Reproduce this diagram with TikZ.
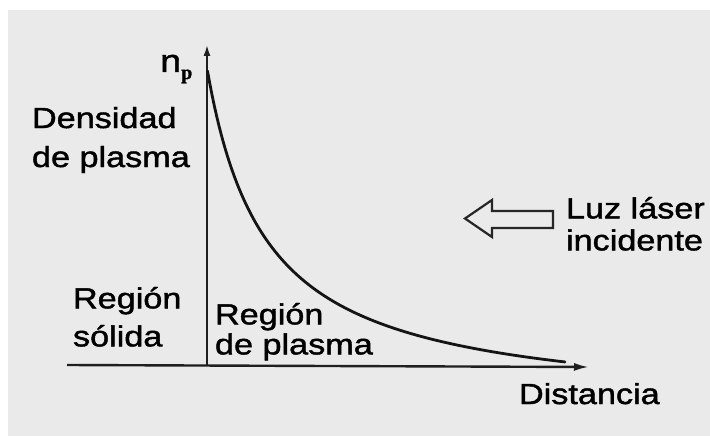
\documentclass[tikz,border=0pt]{standalone}
\usepackage{fontspec}
\setmainfont[FakeStretch=1.18,FakeBold=1.5]{Liberation Sans}
\newfontfamily\pserif[FakeBold=1]{Liberation Serif}
\usetikzlibrary{arrows.meta}
\definecolor{bggrey}{RGB}{234,234,234}
\begin{document}
\begin{tikzpicture}[x=1pt,y=-1pt,
  lbl/.style={inner sep=0pt,outer sep=0pt,align=left,anchor=north west,font=\fontsize{29}{#1}\selectfont},
  lbl/.default=38,
  axis/.style={line width=2.4pt,draw=black!88},
  curve/.style={line width=2.8pt,draw=black!92},
  hollow/.style={line width=2.2pt,draw=black!85,fill=bggrey,line join=miter}]
\useasboundingbox (0,0) rectangle (710,436);
\fill[bggrey] (8,10) rectangle (710,436);
% axes
\coordinate (origin) at (207,366);
\coordinate (ytip) at (207,44);
\coordinate (xstart) at (67,365);
\coordinate (xtip) at (589,367);
\draw[axis,-{Latex[length=12pt,width=7pt]}] (origin) -- (ytip);
\draw[axis,-{Latex[length=15pt,width=8pt]}] (xstart) -- (xtip);
% density curve
\draw[curve,line cap=round] plot[domain=0.5:358,samples=160] ({207+\x},{366-(100*(202.01/(\x+59))-44.4)});
% laser arrow
\draw[hollow] (553,211) -- (492,211) -- (492,200) -- (465,218.5) -- (492,237) -- (492,228) -- (553,228) -- cycle;
% labels
\node[inner sep=0pt,anchor=base west,font=\fontsize{32}{36}\selectfont] (np) at (160,72) {n\raisebox{-7pt}{\pserif\bfseries\fontsize{20}{20}\selectfont p}};
\node[lbl=39] (dens) at (32,107) {Densidad\\de plasma};
\node[lbl=38] (solid) at (73,287) {Región\\sólida};
\node[lbl=30] (plasma) at (215,303) {Región\\de plasma};
\node[lbl=32] (laser) at (566,197) {Luz láser\\incidente};
\node[lbl] (dist) at (519,383) {Distancia};
\end{tikzpicture}
\end{document}
